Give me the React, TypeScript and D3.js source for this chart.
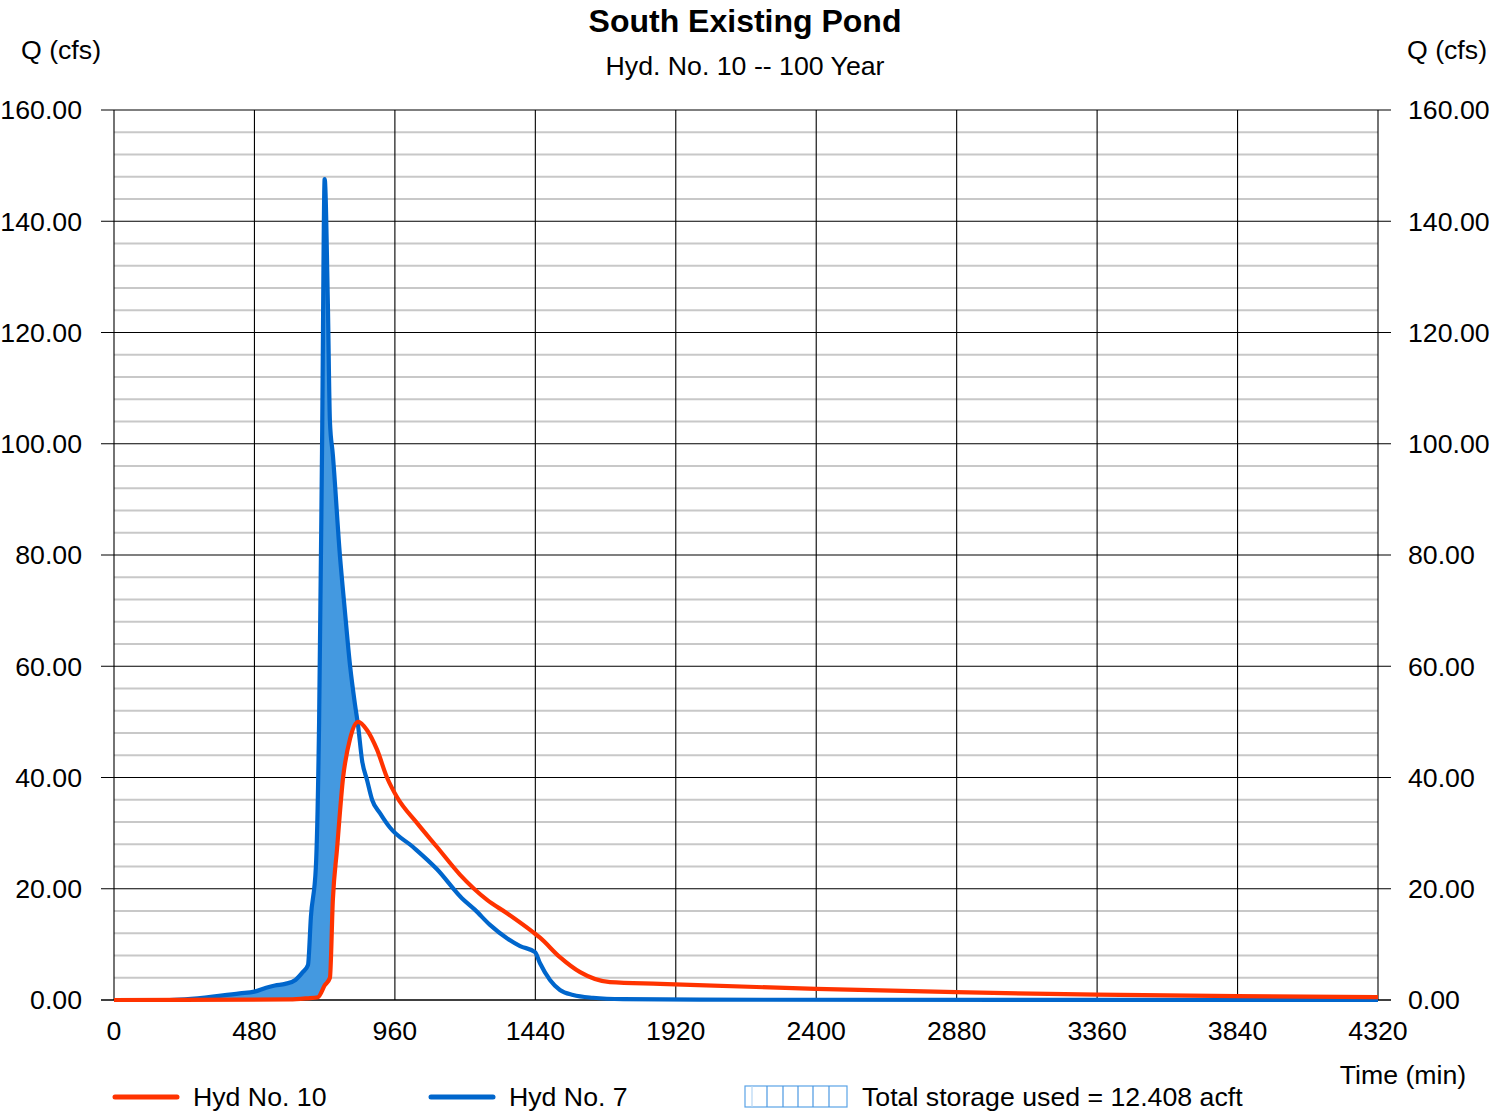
import React from "react";
import * as d3 from "d3";

const TITLE = "South Existing Pond";
const SUBTITLE = "Hyd. No. 10 -- 100 Year";
const Y_LABEL = "Q (cfs)";
const X_LABEL = "Time (min)";

const xTicks = [0, 480, 960, 1440, 1920, 2400, 2880, 3360, 3840, 4320];
const yTicks = [0, 20, 40, 60, 80, 100, 120, 140, 160];
const yMinorStep = 4;

// Hyd No. 7 (inflow) — [time (min), Q (cfs)]
const hyd7: [number, number][] = [
  [0, 0], [190, 0], [430, 1.2], [480, 1.5], [520, 2.2], [550, 2.6], [585, 2.9],
  [620, 3.6], [645, 5.0], [663, 6.3], [673, 15], [690, 24], [701, 50], [711, 99],
  [720, 147.6], [731, 125], [738, 104], [748, 98], [772, 80], [789, 70], [807, 60],
  [824, 53], [834, 49.4], [848, 43], [865, 39.5], [882, 36], [909, 33.6], [943, 31],
  [1022, 27.5], [1104, 23.5], [1189, 18.3], [1234, 16.2], [1285, 13.5], [1343, 11.1],
  [1388, 9.7], [1439, 8.6], [1456, 6.6], [1490, 3.6], [1524, 1.8], [1569, 0.9],
  [1637, 0.4], [1740, 0.15], [2000, 0.05], [4320, 0.02],
];

// Hyd No. 10 (outflow) — [time (min), Q (cfs)]
const hyd10: [number, number][] = [
  [0, 0], [600, 0.1], [660, 0.3], [697, 0.5], [721, 2.7], [738, 4.0], [748, 18],
  [762, 27], [783, 40], [807, 47], [834, 50], [865, 48.5], [899, 45], [933, 40],
  [967, 36.5], [1036, 31.8], [1104, 27.5], [1183, 22.5], [1275, 18], [1343, 15.6],
  [1432, 12.2], [1456, 11.2], [1524, 7.7], [1593, 5.0], [1695, 3.2], [1866, 2.9],
  [2399, 2.0], [2878, 1.4], [3360, 0.95], [3838, 0.7], [4320, 0.5],
];

const legendItems = [
  { label: "Hyd No. 10", color: "#ff3300" },
  { label: "Hyd No. 7", color: "#0066cc" },
];
const storageLabel = "Total storage used = 12.408 acft";

const W = 1489;
const H = 1112;
const M = { left: 114, right: 1378, top: 110, bottom: 1000 };
const FONT = "'Liberation Sans', Arial, sans-serif";
const FS = 26.7;
const RED = "#ff3300";
const BLUE = "#0066cc";
const FILL = "#4499e0";

export default function App() {
  const x = d3.scaleLinear().domain([0, 4320]).range([M.left, M.right]);
  const y = d3.scaleLinear().domain([0, 160]).range([M.bottom, M.top]);

  const line = d3
    .line<[number, number]>()
    .x((d) => x(d[0]))
    .y((d) => y(d[1]))
    .curve(d3.curveMonotoneX);

  const areaUnderBlue = d3
    .area<[number, number]>()
    .x((d) => x(d[0]))
    .y0(y(0))
    .y1((d) => y(d[1]))
    .curve(d3.curveMonotoneX);

  const areaAboveRed = d3
    .area<[number, number]>()
    .x((d) => x(d[0]))
    .y0(0)
    .y1((d) => y(d[1]))
    .curve(d3.curveMonotoneX);

  const minorTicks = d3.range(0, 160 + 0.001, yMinorStep).filter((v) => v % 20 !== 0);

  const fmt = d3.format(".2f");

  const boxX = 745;
  const boxY = 1086;
  const boxW = 102;
  const boxH = 21;
  const boxLines = [7, 22, 38, 53, 68, 84];

  return (
    <svg
      width={W}
      height={H}
      style={{ position: "absolute", left: 0, top: 0, background: "#fff" }}
      fontFamily={FONT}
    >
      <rect x={0} y={0} width={W} height={H} fill="#fff" />
      <defs>
        <clipPath id="aboveRed">
          <path d={areaAboveRed(hyd10) || ""} />
        </clipPath>
      </defs>

      {minorTicks.map((v) => (
        <line key={"m" + v} x1={M.left} x2={M.right} y1={y(v)} y2={y(v)} stroke="#c8c8c8" strokeWidth={2} />
      ))}
      {yTicks.map((v) => (
        <g key={"y" + v}>
          <line x1={M.left - 13} x2={M.right + 13} y1={y(v)} y2={y(v)} stroke="#000" strokeWidth={v === 0 ? 1.6 : 1.1} />
          <text x={82} y={y(v)} dy="0.35em" textAnchor="end" fontSize={FS} fill="#000">
            {fmt(v)}
          </text>
          <text x={1408} y={y(v)} dy="0.35em" textAnchor="start" fontSize={FS} fill="#000">
            {fmt(v)}
          </text>
        </g>
      ))}
      {xTicks.map((v) => (
        <g key={"x" + v}>
          <line x1={x(v)} x2={x(v)} y1={M.top} y2={M.bottom} stroke="#000" strokeWidth={1.1} />
          <text x={x(v)} y={1040} textAnchor="middle" fontSize={FS} fill="#000">
            {v}
          </text>
        </g>
      ))}

      <path d={areaUnderBlue(hyd7) || ""} fill={FILL} clipPath="url(#aboveRed)" />

      <path d={line(hyd7) || ""} fill="none" stroke={BLUE} strokeWidth={4.2} strokeLinejoin="round" />
      <path d={line(hyd10) || ""} fill="none" stroke={RED} strokeWidth={4.2} strokeLinejoin="round" />

      <text x={745} y={32} textAnchor="middle" fontSize={32} fontWeight="bold" fill="#000">
        {TITLE}
      </text>
      <text x={745} y={75} textAnchor="middle" fontSize={FS} fill="#000">
        {SUBTITLE}
      </text>
      <text x={61} y={59} textAnchor="middle" fontSize={FS} fill="#000">
        {Y_LABEL}
      </text>
      <text x={1447} y={59} textAnchor="middle" fontSize={FS} fill="#000">
        {Y_LABEL}
      </text>
      <text x={1403} y={1084} textAnchor="middle" fontSize={FS} fill="#000">
        {X_LABEL}
      </text>

      {legendItems.map((it, i) => {
        const lx = 115 + i * 316;
        return (
          <g key={it.label}>
            <line x1={lx} x2={lx + 62} y1={1097} y2={1097} stroke={it.color} strokeWidth={5} strokeLinecap="round" />
            <text x={lx + 78} y={1106} fontSize={FS} fill="#000">
              {it.label}
            </text>
          </g>
        );
      })}
      <rect x={boxX} y={boxY} width={boxW} height={boxH} fill="#fff" stroke="#5aa3e6" strokeWidth={1.2} />
      {boxLines.map((dx, i) => (
        <line
          key={"bl" + dx}
          x1={boxX + dx}
          x2={boxX + dx}
          y1={boxY}
          y2={boxY + boxH}
          stroke={i === 0 ? "#b5d5f3" : "#4a98e2"}
          strokeWidth={1.2}
        />
      ))}
      <text x={862} y={1106} fontSize={FS} fill="#000">
        {storageLabel}
      </text>
    </svg>
  );
}
